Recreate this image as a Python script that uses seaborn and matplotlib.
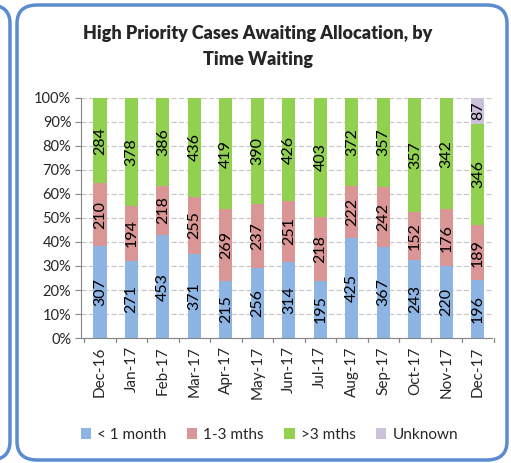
import matplotlib
matplotlib.use("Agg")
import matplotlib.pyplot as plt
import seaborn as sns
import numpy as np
import pandas as pd
from matplotlib.patches import FancyBboxPatch, Patch

months = ["Dec-16", "Jan-17", "Feb-17", "Mar-17", "Apr-17", "May-17", "Jun-17",
          "Jul-17", "Aug-17", "Sep-17", "Oct-17", "Nov-17", "Dec-17"]
lt1 = [307, 271, 453, 371, 215, 256, 314, 195, 425, 367, 243, 220, 196]
m13 = [210, 194, 218, 255, 269, 237, 251, 218, 222, 242, 152, 176, 189]
gt3 = [284, 378, 386, 436, 419, 390, 426, 403, 372, 357, 357, 342, 346]
unk = [0, 0, 0, 0, 0, 0, 0, 0, 0, 0, 0, 0, 87]
series_names = ["< 1 month", "1-3 mths", ">3 mths", "Unknown"]
colors = ["#8EB4E3", "#D99694", "#92D050", "#CCC1DA"]

sns.set_style("white")
plt.rcParams['font.family'] = ['Lato', 'DejaVu Sans']

df = pd.DataFrame({"month": months, series_names[0]: lt1, series_names[1]: m13,
                   series_names[2]: gt3, series_names[3]: unk})
vals = df[series_names].to_numpy(dtype=float)
pct = vals / vals.sum(axis=1, keepdims=True) * 100

fig = plt.figure(figsize=(5.11, 4.63), dpi=100)
# borders
fig.patches.append(FancyBboxPatch((17/511, 3/463), 490/511, 455/463,
                                  boxstyle="round,pad=0,rounding_size=0.04",
                                  transform=fig.transFigure, fill=False,
                                  edgecolor="#5B8BD0", linewidth=2.5))
fig.patches.append(FancyBboxPatch((-40/511, 3/463), 50/511, 455/463,
                                  boxstyle="round,pad=0,rounding_size=0.04",
                                  transform=fig.transFigure, fill=False,
                                  edgecolor="#5B8BD0", linewidth=2.5))

ax = fig.add_axes([81/511, 1 - 338/463, 411/511, 240/463])

# stacked bars with seaborn: draw cumulative totals from top series down
cum = np.cumsum(pct, axis=1)
for i in reversed(range(len(series_names))):
    sns.barplot(x=months, y=cum[:, i], color=colors[i], width=0.42,
                saturation=1, ax=ax, zorder=2, edgecolor="none")

# labels
for j in range(len(months)):
    base = 0
    for i in range(len(series_names)):
        v = vals[j, i]
        if v > 0:
            ax.text(j, base + pct[j, i] / 2, f"{int(v)}", rotation=90,
                    ha="center", va="center", fontsize=11.5, color="black", zorder=3)
        base += pct[j, i]

ax.set_ylim(0, 100)
ax.set_xlim(-0.6, 12.45)
ax.set_yticks(np.arange(0, 101, 10))
ax.set_yticklabels([f"{t}%" for t in range(0, 101, 10)], fontsize=10.5)
ax.set_xticks(range(len(months)))
ax.set_xticklabels(months, rotation=90, fontsize=11)
ax.yaxis.grid(True, linestyle=(0, (4, 2)), color="#C8C8C8", linewidth=0.9, zorder=0)
ax.set_axisbelow(True)
for s in ["top", "right"]:
    ax.spines[s].set_visible(False)
ax.spines["left"].set_color("#868686")
ax.spines["bottom"].set_color("#868686")
ax.tick_params(axis="y", length=4, color="#868686", left=True, pad=3)
ax.tick_params(axis="x", length=0, pad=6)
ax.set_xlabel("")
ax.set_ylabel("")
# x-axis category boundary ticks
for b in np.arange(-0.5, 12.6, 1):
    ax.plot([b, b], [0, -1.6], color="#868686", lw=0.9, clip_on=False, zorder=3)

fig.text(0.5 + 2/511, 1 - 33/463, "High Priority Cases Awaiting Allocation, by",
         ha="center", va="center", fontsize=13, fontweight="heavy")
fig.text(0.5 + 2/511, 1 - 60/463, "Time Waiting",
         ha="center", va="center", fontsize=13, fontweight="heavy")

handles = [Patch(facecolor=c, edgecolor="none") for c in colors]
fig.legend(handles, series_names, loc="center", bbox_to_anchor=(0.527, 1 - 435/463),
           ncol=4, frameon=False, fontsize=11, handlelength=0.7, handleheight=0.7,
           handletextpad=0.4, columnspacing=1.3)

fig.savefig("out.png", dpi=100)
